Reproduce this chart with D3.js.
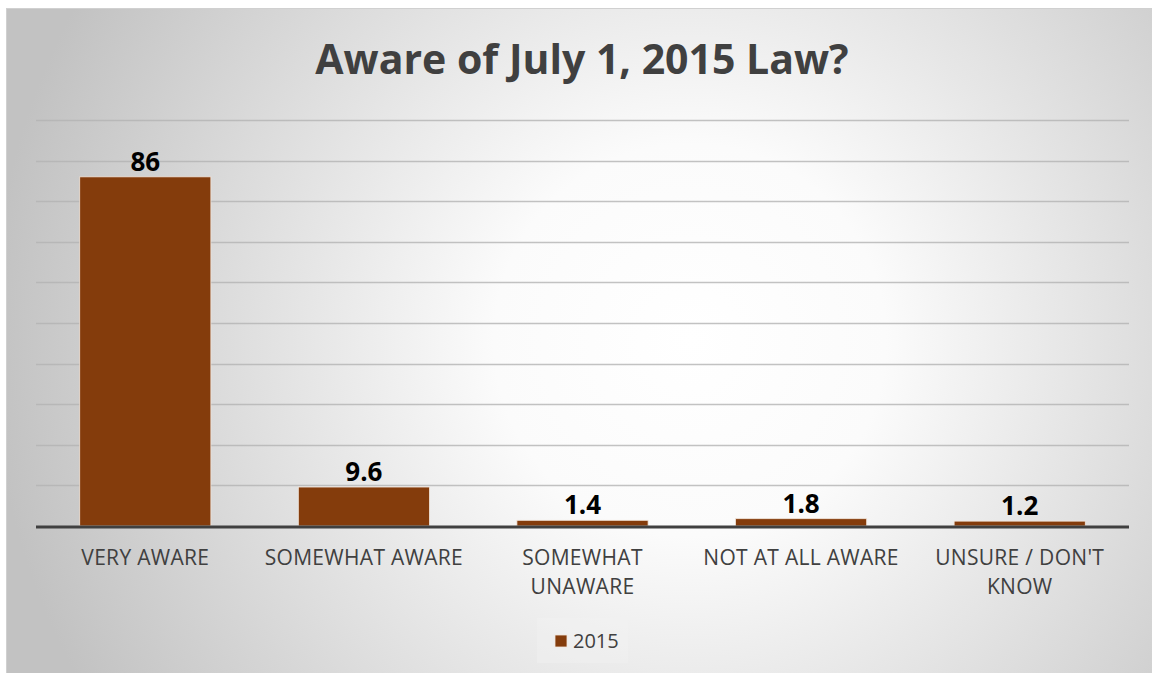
<!DOCTYPE html>
<html>
<head>
<meta charset="utf-8">
<script src="https://cdn.jsdelivr.net/npm/d3@7"></script>
<style>
  html, body { margin: 0; padding: 0; background: #ffffff; }
  svg { display: block; font-family: "Open Sans", "Noto Sans", sans-serif; }
</style>
</head>
<body>
<svg id="chart" width="1152" height="673"></svg>
<script>
// Survey responses: awareness of the July 1, 2015 law (percent)
const categories = [["VERY AWARE"], ["SOMEWHAT AWARE"], ["SOMEWHAT", "UNAWARE"], ["NOT AT ALL AWARE"], ["UNSURE / DON'T", "KNOW"]];
const values2015 = [86, 9.6, 1.4, 1.8, 1.2];
const valueLabels = ["86", "9.6", "1.4", "1.8", "1.2"];
const gridTicks = [10, 20, 30, 40, 50, 60, 70, 80, 90, 100];
const seriesName = "2015";
const titleText = "Aware of July 1, 2015 Law?";

const svg = d3.select("#chart");
const W = 1152, H = 673;

// Chart-area background: soft radial gradient, white in the middle fading to grey
const defs = svg.append("defs");
const grad = defs.append("radialGradient")
  .attr("id", "bg")
  .attr("gradientUnits", "userSpaceOnUse")
  .attr("cx", 690).attr("cy", 340).attr("r", 700);
grad.append("stop").attr("offset", "0%").attr("stop-color", "#ffffff");
grad.append("stop").attr("offset", "28%").attr("stop-color", "#fbfbfb");
grad.append("stop").attr("offset", "100%").attr("stop-color", "#c2c2c2");

svg.append("rect")
  .attr("x", 6.5).attr("y", 8.5)
  .attr("width", W - 6).attr("height", H - 8)
  .attr("fill", "url(#bg)")
  .attr("stroke", "#d0d0d0").attr("stroke-width", 1);

const plot = { left: 36, right: 1129, top: 120, bottom: 526 };

const x = d3.scaleBand()
  .domain(d3.range(categories.length))
  .range([plot.left, plot.right])
  .paddingInner(0.4).paddingOuter(0.2);

const y = d3.scaleLinear()
  .domain([0, 100])
  .range([plot.bottom, plot.top]);

// Horizontal gridlines
svg.append("g")
  .selectAll("line")
  .data(gridTicks)
  .join("line")
  .attr("x1", plot.left).attr("x2", plot.right)
  .attr("y1", d => Math.round(y(d)) + 0.5)
  .attr("y2", d => Math.round(y(d)) + 0.5)
  .attr("stroke", "#b3b3b3")
  .attr("stroke-opacity", 0.8)
  .attr("stroke-width", 1.3);

// Title
svg.append("text")
  .attr("x", 582).attr("y", 74)
  .attr("text-anchor", "middle")
  .attr("font-size", 41)
  .attr("font-weight", 700)
  .attr("fill", "#404040")
  .text(titleText);

// Bars
svg.append("g")
  .selectAll("rect")
  .data(values2015)
  .join("rect")
  .attr("x", (d, i) => x(i))
  .attr("width", x.bandwidth())
  .attr("y", d => y(d))
  .attr("height", d => y(0) - y(d))
  .attr("fill", "#843c0c")
  .attr("stroke", "#f2e6dc")
  .attr("stroke-width", 0.8);

// Value labels
svg.append("g")
  .selectAll("text")
  .data(values2015)
  .join("text")
  .attr("x", (d, i) => x(i) + x.bandwidth() / 2)
  .attr("y", d => y(d) - 6)
  .attr("text-anchor", "middle")
  .attr("font-size", 26)
  .attr("font-weight", 700)
  .attr("fill", "#000000")
  .text((d, i) => valueLabels[i]);

// Category axis line
svg.append("line")
  .attr("x1", plot.left).attr("x2", plot.right)
  .attr("y1", y(0) + 1).attr("y2", y(0) + 1)
  .attr("stroke", "#404040")
  .attr("stroke-width", 3.2);

// Category labels (wrapped onto two lines where needed)
const catG = svg.append("g")
  .selectAll("text")
  .data(categories)
  .join("text")
  .attr("x", (d, i) => x(i) + x.bandwidth() / 2)
  .attr("y", 565)
  .attr("text-anchor", "middle")
  .attr("font-size", 21)
  .attr("letter-spacing", 0.3)
  .attr("fill", "#404040");
catG.selectAll("tspan")
  .data(d => d)
  .join("tspan")
  .attr("x", function () { return d3.select(this.parentNode).attr("x"); })
  .attr("dy", (d, j) => j === 0 ? 0 : 29)
  .text(d => d);

// Legend
const legend = svg.append("g");
legend.append("rect")
  .attr("x", 537).attr("y", 618).attr("width", 91).attr("height", 45)
  .attr("fill", "#f2f2f2").attr("fill-opacity", 0.45);
legend.append("rect")
  .attr("x", 555).attr("y", 635).attr("width", 12).attr("height", 12)
  .attr("fill", "#843c0c").attr("stroke", "#f2e6dc").attr("stroke-width", 0.8);
legend.append("text")
  .attr("x", 573).attr("y", 648)
  .attr("font-size", 20)
  .attr("fill", "#404040")
  .text(seriesName);
</script>
</body>
</html>
